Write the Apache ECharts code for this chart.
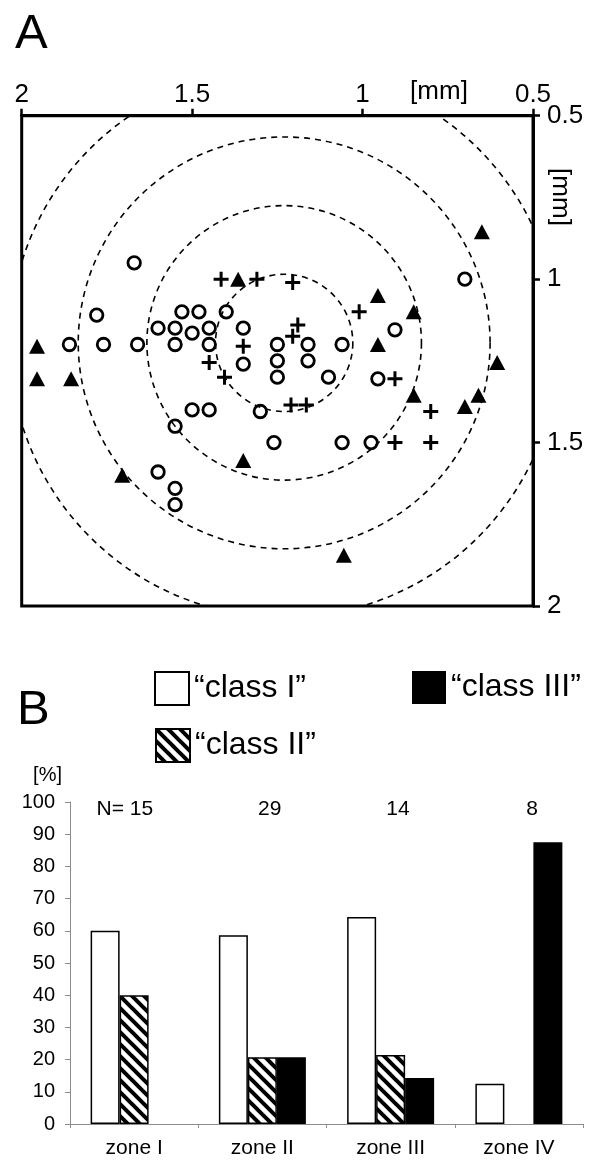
<!DOCTYPE html>
<html>
<head>
<meta charset="utf-8">
<script src="https://cdn.jsdelivr.net/npm/echarts@6/dist/echarts.min.js"></script>
<style>
  html, body { margin: 0; padding: 0; background: #fff; }
  #chart { width: 599px; height: 1170px; }
</style>
</head>
<body>
<div id="chart"></div>
<script>
// ---- Panel A: recording sites [mm], one list per response class ----
const classIPoints = [
  [1.67, 0.95], [1.78, 1.11], [1.53, 1.10], [1.48, 1.10], [1.40, 1.10],
  [1.60, 1.15], [1.55, 1.15], [1.50, 1.165], [1.45, 1.15], [1.35, 1.15],
  [1.86, 1.20], [1.76, 1.20], [1.66, 1.20], [1.55, 1.20], [1.45, 1.20],
  [1.25, 1.20], [1.16, 1.20], [1.06, 1.20],
  [1.35, 1.26], [1.25, 1.25], [1.16, 1.25], [1.25, 1.30], [1.10, 1.30], [0.955, 1.305],
  [1.50, 1.40], [1.45, 1.40], [1.30, 1.405], [1.55, 1.45],
  [1.26, 1.50], [1.06, 1.50], [0.975, 1.50],
  [1.60, 1.59], [1.55, 1.64], [1.55, 1.69], [0.70, 1.00], [0.905, 1.155]
];
const classIIPoints = [
  [1.415, 1.00], [1.31, 1.00], [1.205, 1.01], [1.19, 1.14], [1.205, 1.175],
  [1.35, 1.205], [1.45, 1.255], [1.405, 1.30], [1.21, 1.385], [1.165, 1.385],
  [1.01, 1.10], [0.905, 1.305], [0.80, 1.405], [0.905, 1.50], [0.80, 1.50]
];
const classIIIPoints = [
  [1.365, 1.00], [0.65, 0.855], [0.955, 1.05], [0.85, 1.10], [0.955, 1.20],
  [1.955, 1.205], [1.955, 1.305], [1.855, 1.305], [0.605, 1.255], [0.85, 1.355],
  [0.66, 1.355], [0.70, 1.39], [1.35, 1.555], [1.705, 1.60], [1.055, 1.845]
];
// concentric zone boundaries: centre [mm] and radii [mm]
const zoneCenter = [1.23, 1.195];
const zoneRadii = [0.21, 0.42, 0.63, 0.84];

// ---- Panel B: class distribution per zone [%] ----
const zones = ['zone I', 'zone II', 'zone III', 'zone IV'];
const zoneN = [15, 29, 14, 8];
const classI = [60, 58.6, 64.3, 12.5];
const classII = [40, 20.7, 21.4, 0];
const classIII = [0, 20.7, 14.3, 87.5];
const classNames = ['\u201Cclass I\u201D', '\u201Cclass II\u201D', '\u201Cclass III\u201D'];

const FONT = '"Liberation Sans", Arial, sans-serif';

// diagonal hatch tile used for class II
function hatchTile() {
  const s = 12;
  const c = document.createElement('canvas');
  c.width = s; c.height = s;
  const g = c.getContext('2d');
  g.fillStyle = '#fff';
  g.fillRect(0, 0, s, s);
  g.strokeStyle = '#000';
  g.lineWidth = 4;
  for (const k of [-s, 0, s]) {
    g.beginPath();
    g.moveTo(k - 2, -2);
    g.lineTo(k + s + 2, s + 2);
    g.stroke();
  }
  return c;
}
const hatch = { image: hatchTile(), repeat: 'repeat' };

// zero-height bars get no outline
function barData(values) {
  return values.map(v => (v === 0 ? { value: v, itemStyle: { borderWidth: 0 } } : v));
}

const chart = echarts.init(document.getElementById('chart'), null, { renderer: 'canvas' });

const mmAxisCommon = {
  type: 'value', inverse: true, min: 0.5, max: 2, interval: 0.5,
  axisLine: { show: true, lineStyle: { color: '#000', width: 3 } },
  axisTick: { show: true, inside: false, length: 7, lineStyle: { color: '#000', width: 2.5 } },
  axisLabel: { fontSize: 26, color: '#000', fontFamily: FONT, formatter: v => String(v) },
  splitLine: { show: false }
};

const option = {
  animation: false,
  backgroundColor: '#fff',
  textStyle: { fontFamily: FONT, color: '#000' },
  grid: [
    { left: 21.7, right: 66, top: 115.7, bottom: 564, show: true,
      borderColor: '#000', borderWidth: 3, backgroundColor: 'transparent' },
    { left: 70, right: 16, top: 802, bottom: 46 }
  ],
  xAxis: [
    Object.assign({}, mmAxisCommon, {
      gridIndex: 0, position: 'top',
      axisLabel: Object.assign({}, mmAxisCommon.axisLabel, { margin: 8 })
    }),
    {
      gridIndex: 1, type: 'category', data: zones,
      axisLine: { show: true, lineStyle: { color: '#8c8c8c', width: 1 } },
      axisTick: { show: true, length: 4, lineStyle: { color: '#8c8c8c' } },
      axisLabel: { fontSize: 21, color: '#000', margin: 14, fontFamily: FONT }
    }
  ],
  yAxis: [
    Object.assign({}, mmAxisCommon, {
      gridIndex: 0, position: 'right',
      axisLabel: Object.assign({}, mmAxisCommon.axisLabel, { margin: 14 })
    }),
    {
      gridIndex: 1, type: 'value', min: 0, max: 100, interval: 10,
      name: '[%]', nameLocation: 'end', nameGap: 27,
      nameTextStyle: { fontSize: 20, color: '#000', align: 'right', verticalAlign: 'middle',
        padding: [0, 8, 0, 0], fontFamily: FONT },
      axisLine: { show: true, lineStyle: { color: '#8c8c8c', width: 1 } },
      axisTick: { show: true, length: 5, lineStyle: { color: '#8c8c8c' } },
      axisLabel: { fontSize: 20, color: '#000', margin: 15, fontFamily: FONT },
      splitLine: { show: false }
    }
  ],
  legend: [
    { data: [classNames[0]], left: 154, top: 671 },
    { data: [classNames[2]], left: 412, top: 671 },
    { data: [classNames[1]], left: 155, top: 728 }
  ].map(l => Object.assign({
    orient: 'horizontal', padding: 0, itemWidth: 34, itemHeight: 33, icon: 'rect',
    selectedMode: false,
    textStyle: { fontSize: 32, color: '#000', fontFamily: FONT }
  }, l)),
  graphic: [
    { type: 'text', left: 15, top: 10, style: { text: 'A', fontSize: 49, fill: '#000', fontFamily: FONT } },
    { type: 'text', left: 17, top: 686, style: { text: 'B', fontSize: 49, fill: '#000', fontFamily: FONT } },
    { type: 'text', x: 439, y: 92, style: { text: '[mm]', fontSize: 26, fill: '#000', fontFamily: FONT,
        align: 'center', verticalAlign: 'middle' } },
    { type: 'text', x: 560, y: 197, rotation: -Math.PI / 2,
      style: { text: '[mm]', fontSize: 26, fill: '#000', fontFamily: FONT,
        align: 'center', verticalAlign: 'middle' } }
  ],
  series: [
    // zone boundaries
    {
      type: 'custom', xAxisIndex: 0, yAxisIndex: 0, silent: true, z: 1, clip: true,
      encode: { x: 0, y: 1 },
      data: zoneRadii.map(r => [zoneCenter[0], zoneCenter[1], r]),
      renderItem: (params, api) => {
        const c = api.coord([api.value(0), api.value(1)]);
        const r = api.size([0, api.value(2)])[1];
        const cs = params.coordSys;
        return {
          type: 'group',
          clipPath: { type: 'rect', shape: { x: cs.x, y: cs.y, width: cs.width, height: cs.height } },
          children: [{
            type: 'circle', shape: { cx: c[0], cy: c[1], r: r },
            style: { fill: 'none', stroke: '#000', lineWidth: 1.6, lineDash: [6, 5] }
          }]
        };
      }
    },
    {
      type: 'scatter', xAxisIndex: 0, yAxisIndex: 0, z: 3, data: classIPoints,
      symbol: 'circle', symbolSize: 12.5,
      itemStyle: { color: 'rgba(0,0,0,0)', borderColor: '#000', borderWidth: 2.8, opacity: 1 }
    },
    {
      type: 'scatter', xAxisIndex: 0, yAxisIndex: 0, z: 3, data: classIIPoints,
      symbol: 'path://M6,0H9V6H15V9H9V15H6V9H0V6H6Z', symbolSize: 15,
      itemStyle: { color: '#000', opacity: 1 }
    },
    {
      type: 'scatter', xAxisIndex: 0, yAxisIndex: 0, z: 3, data: classIIIPoints,
      symbol: 'triangle', symbolSize: [16, 15],
      itemStyle: { color: '#000', opacity: 1 }
    },
    // panel B bars
    {
      name: classNames[0], type: 'bar', xAxisIndex: 1, yAxisIndex: 1, data: barData(classI),
      barWidth: 29, barGap: '0%',
      itemStyle: { color: '#fff', borderColor: '#000', borderWidth: 1.5 }
    },
    {
      name: classNames[1], type: 'bar', xAxisIndex: 1, yAxisIndex: 1, data: barData(classII),
      barWidth: 29, barGap: '0%',
      itemStyle: { color: hatch, borderColor: '#000', borderWidth: 1.5 }
    },
    {
      name: classNames[2], type: 'bar', xAxisIndex: 1, yAxisIndex: 1, data: barData(classIII),
      barWidth: 29, barGap: '0%',
      itemStyle: { color: '#000', borderColor: '#000', borderWidth: 0 }
    },
    // sample sizes above each zone
    {
      type: 'scatter', xAxisIndex: 1, yAxisIndex: 1, silent: true, z: 5,
      symbolSize: 1, itemStyle: { color: 'rgba(0,0,0,0)', opacity: 1 },
      data: zoneN.map((n, i) => [i, 100]),
      label: {
        show: true, position: 'inside', align: 'right', verticalAlign: 'middle',
        offset: [19, 7], fontSize: 21, color: '#000', opacity: 1, fontFamily: FONT,
        formatter: p => (p.dataIndex === 0 ? 'N= ' : '') + zoneN[p.dataIndex]
      }
    }
  ]
};

chart.setOption(option);
</script>
</body>
</html>
